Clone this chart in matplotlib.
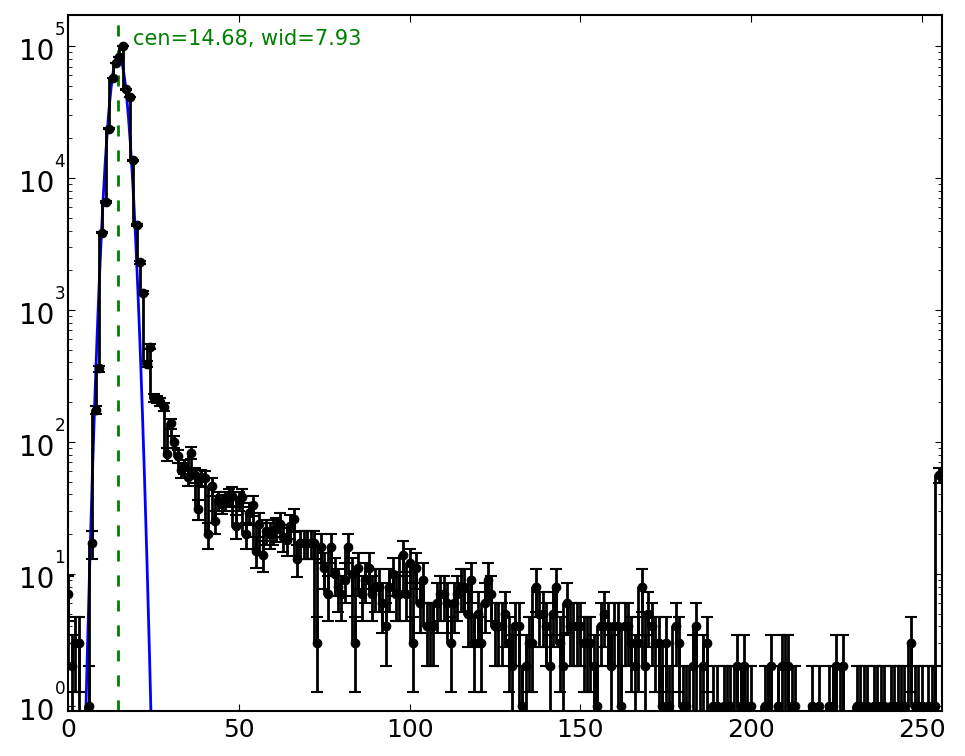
import numpy as np
import matplotlib
matplotlib.use("Agg")
import matplotlib.pyplot as plt
from matplotlib.ticker import NullFormatter

# ADC channel counts, bins 0..255
counts = [
    7, 2, 3, 3, 0, 0, 1, 17, 175, 360,
    3860, 6560, 23700, 57400, 74600, 83000, 100000, 46900, 41200, 13600,
    4420, 2290, 1350, 390, 525, 215, 210, 200, 185, 81,
    138, 100, 78, 61, 65, 54, 83, 56, 31, 54,
    53, 20, 46, 25, 36, 34, 36, 38, 39, 23,
    36, 38, 20, 29, 33, 15, 24, 14, 21, 20,
    21, 22, 24, 19, 18, 23, 26, 13, 17, 17,
    17, 17, 17, 3, 16, 11, 7, 16, 10, 8,
    7, 9, 16, 10, 3, 11, 7, 9, 11, 7,
    8, 8, 6, 4, 8, 10, 7, 7, 14, 7,
    12, 3, 11, 6, 9, 4, 4, 4, 6, 7,
    7, 6, 3, 6, 7, 8, 8, 5, 9, 3,
    5, 3, 6, 9, 7, 4, 4, 4, 5, 3,
    2, 4, 4, 1, 2, 3, 3, 8, 5, 5,
    4, 2, 5, 8, 3, 2, 6, 4, 4, 4,
    4, 3, 3, 3, 2, 1, 4, 5, 4, 2,
    4, 4, 1, 4, 4, 3, 2, 3, 8, 2,
    5, 4, 3, 3, 1, 3, 1, 0, 4, 3,
    1, 1, 0, 2, 4, 0, 2, 3, 0, 1,
    1, 0, 1, 1, 1, 0, 2, 1, 2, 1,
    1, 0, 0, 0, 1, 1, 2, 0, 1, 2,
    2, 2, 1, 1, 0, 0, 0, 0, 1, 0,
    1, 0, 0, 1, 1, 2, 0, 2, 0, 0,
    0, 1, 1, 1, 1, 0, 1, 1, 1, 1,
    0, 1, 1, 1, 1, 1, 0, 3, 1, 1,
    1, 0, 1, 1, 1, 56,
]

# gaussian fit result shown on the plot
fit_amp = 8.6e4
fit_cen = 14.68
fit_wid = 7.93

decades = [0, 1, 2, 3, 4, 5]
xticks = [0, 50, 100, 150, 200, 250]


def gauss(x, amp, cen, wid):
    return amp * np.exp(-((x - cen) ** 2) / wid)


plt.rcParams["xtick.direction"] = "in"
plt.rcParams["ytick.direction"] = "in"
plt.rcParams["xtick.top"] = True
plt.rcParams["ytick.right"] = True
plt.rcParams["xtick.major.size"] = 5
plt.rcParams["ytick.major.size"] = 5
plt.rcParams["ytick.minor.size"] = 3
plt.rcParams["xtick.major.pad"] = 5

fig = plt.figure(figsize=(9.65, 7.56), dpi=100)
ax = fig.add_axes([68.3 / 965, (756 - 710.7) / 756,
                   (942 - 68.3) / 965, (710.7 - 15) / 756])

y = np.array(counts, dtype=float)
x = np.arange(len(y))
ax.errorbar(x, y, yerr=np.sqrt(y), fmt="ko-", drawstyle="steps",
            lw=2, ms=6, capsize=4, elinewidth=2, capthick=1.5)

xf = np.linspace(0, 256, 2000)
ax.plot(xf, gauss(xf, fit_amp, fit_cen, fit_wid), "b-", lw=2)
ax.axvline(fit_cen, color="g", ls="--", lw=2, dashes=(4, 5))
ax.text(19.0, 1.02e5, "cen=%.2f, wid=%.2f" % (fit_cen, fit_wid),
        color="g", fontsize=15, va="baseline")

ax.set_yscale("log")
ax.set_xlim(0, 256)
ax.set_ylim(0.917, 1.72e5)
ax.set_xticks(xticks)
ax.tick_params(axis="x", labelsize=18)

# old-style log labels: big "10" with the exponent lifted above it
ax.set_yticks([10.0 ** e for e in decades])
ax.yaxis.set_major_formatter(NullFormatter())
ax.yaxis.set_minor_formatter(NullFormatter())
for e in decades:
    ax.annotate("10", xy=(0, 10.0 ** e), xycoords=("axes fraction", "data"),
                xytext=(-10.2, -10.1), textcoords="offset points",
                ha="right", va="baseline", fontsize=20)
    ax.annotate(str(e), xy=(0, 10.0 ** e), xycoords=("axes fraction", "data"),
                xytext=(-10.0, 8.1), textcoords="offset points",
                ha="left", va="baseline", fontsize=12.2)

for s in ax.spines.values():
    s.set_linewidth(1.5)

fig.savefig("out.png", dpi=100)
